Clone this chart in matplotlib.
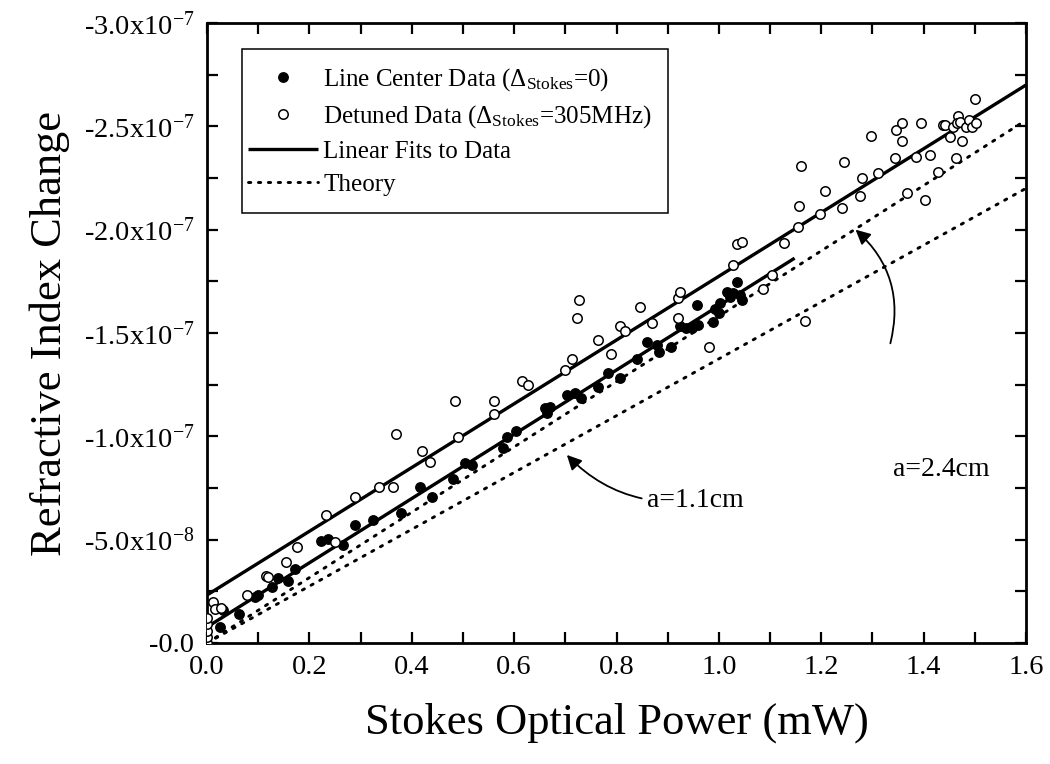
import matplotlib
matplotlib.use("Agg")
import matplotlib.pyplot as plt
from matplotlib.ticker import MultipleLocator
from matplotlib.patches import Rectangle

plt.rcParams['font.family'] = ['Liberation Serif', 'DejaVu Serif']
plt.rcParams['mathtext.fontset'] = 'custom'
plt.rcParams['mathtext.rm'] = 'Liberation Serif'
plt.rcParams['mathtext.it'] = 'Liberation Serif:italic'
plt.rcParams['mathtext.bf'] = 'Liberation Serif:bold'

# ---- data (y in units of 1e-7, plotted as magnitude; axis labels carry the minus sign)
center_x = [0.025, 0.031, 0.063, 0.094, 0.100, 0.127, 0.139, 0.158, 0.172, 0.222,
            0.236, 0.265, 0.289, 0.325, 0.379, 0.416, 0.440, 0.480, 0.504, 0.518,
            0.578, 0.586, 0.604, 0.660, 0.670, 0.664, 0.703, 0.719, 0.730, 0.764,
            0.783, 0.807, 0.840, 0.859, 0.879, 0.883, 0.906, 0.924, 0.936, 0.947,
            0.959, 0.957, 0.988, 0.992, 1.002, 1.000, 1.016, 1.035, 1.027, 1.041,
            1.045, 1.021]
center_y = [0.077, 0.160, 0.140, 0.223, 0.232, 0.270, 0.314, 0.300, 0.358, 0.493,
            0.503, 0.474, 0.571, 0.595, 0.629, 0.755, 0.706, 0.793, 0.871, 0.861,
            0.943, 0.997, 1.026, 1.137, 1.142, 1.113, 1.200, 1.210, 1.185, 1.238,
            1.306, 1.282, 1.374, 1.456, 1.442, 1.408, 1.432, 1.534, 1.524, 1.524,
            1.538, 1.635, 1.553, 1.616, 1.645, 1.597, 1.698, 1.747, 1.693, 1.684,
            1.660, 1.674]

detuned_x = [0.0, 0.0, 0.0, 0.0, 0.0, 0.012, 0.016, 0.027, 0.078, 0.115,
             0.119, 0.154, 0.176, 0.232, 0.250, 0.289, 0.336, 0.364, 0.369, 0.420,
             0.436, 0.484, 0.490, 0.560, 0.560, 0.615, 0.627, 0.699, 0.713, 0.723,
             0.727, 0.764, 0.789, 0.807, 0.816, 0.846, 0.869, 0.920, 0.920, 0.924,
             0.980, 1.027, 1.035, 1.045, 1.086, 1.104, 1.127, 1.154, 1.156, 1.160,
             1.168, 1.197, 1.207, 1.240, 1.244, 1.275, 1.279, 1.297, 1.311, 1.344,
             1.346, 1.357, 1.357, 1.367, 1.385, 1.395, 1.402, 1.412, 1.428, 1.438,
             1.441, 1.451, 1.457, 1.463, 1.467, 1.465, 1.471, 1.475, 1.482, 1.488,
             1.494, 1.502, 1.500]
detuned_y = [0.000, 0.030, 0.060, 0.090, 0.120, 0.198, 0.165, 0.170, 0.232, 0.324,
             0.320, 0.390, 0.464, 0.620, 0.490, 0.706, 0.755, 0.755, 1.010, 0.929,
             0.876, 1.170, 0.997, 1.170, 1.108, 1.270, 1.250, 1.320, 1.374, 1.572,
             1.659, 1.466, 1.398, 1.534, 1.509, 1.626, 1.548, 1.572, 1.669, 1.698,
             1.432, 1.829, 1.930, 1.940, 1.713, 1.780, 1.935, 2.013, 2.114, 2.308,
             1.558, 2.075, 2.187, 2.104, 2.327, 2.163, 2.250, 2.453, 2.274, 2.346,
             2.482, 2.516, 2.429, 2.177, 2.351, 2.516, 2.143, 2.361, 2.279, 2.506,
             2.506, 2.448, 2.496, 2.346, 2.550, 2.516, 2.521, 2.429, 2.496, 2.530,
             2.496, 2.516, 2.632]

fit_center_x = [0.0, 1.148]
fit_center_y = [0.077, 1.862]
fit_detuned_x = [0.0, 1.6]
fit_detuned_y = [0.232, 2.700]
theory_24_x = [0.0, 1.6]
theory_24_y = [0.0, 2.53]
theory_11_x = [0.0, 1.6]
theory_11_y = [0.0, 2.20]

x_ticks = [0.0, 0.2, 0.4, 0.6, 0.8, 1.0, 1.2, 1.4, 1.6]
y_ticks = [0.0, 0.5, 1.0, 1.5, 2.0, 2.5, 3.0]
y_tick_labels = ["-0.0", "-5.0x10$^{-8}$", "-1.0x10$^{-7}$", "-1.5x10$^{-7}$",
                 "-2.0x10$^{-7}$", "-2.5x10$^{-7}$", "-3.0x10$^{-7}$"]

fig = plt.figure(figsize=(10.5, 7.64), dpi=100)
ax = fig.add_axes([207/1050, 1 - 643/764, 819/1050, 620/764])

dot_style = (0, (0.8, 2.6))
ax.plot(fit_detuned_x, fit_detuned_y, color='black', lw=2.4, solid_capstyle='butt', zorder=2)
ax.plot(fit_center_x, fit_center_y, color='black', lw=2.4, solid_capstyle='butt', zorder=2,
        label='Linear Fits to Data')
ax.plot(theory_24_x, theory_24_y, color='black', lw=2.1, ls=dot_style,
        dash_capstyle='round', zorder=2, label='Theory')
ax.plot(theory_11_x, theory_11_y, color='black', lw=2.1, ls=dot_style,
        dash_capstyle='round', zorder=2)

ax.plot(center_x, center_y, 'o', ms=6.8, mfc='black', mec='black', mew=1.0, zorder=3,
        label='Line Center Data (Δ$_{\\mathrm{Stokes}}$=0)')
ax.plot(detuned_x, detuned_y, 'o', ms=6.8, mfc='white', mec='black', mew=1.1, zorder=3,
        label='Detuned Data (Δ$_{\\mathrm{Stokes}}$=305MHz)')

ax.set_xlim(0, 1.6)
ax.set_ylim(0, 3.0)
ax.xaxis.set_minor_locator(MultipleLocator(0.1))
ax.yaxis.set_minor_locator(MultipleLocator(0.25))
ax.set_xticks(x_ticks)
ax.set_xticklabels([f"{v:.1f}" for v in x_ticks])
ax.set_yticks(y_ticks)
ax.set_yticklabels(y_tick_labels)

ax.tick_params(which='both', direction='in', top=True, right=True, length=8, width=1.6,
               labelsize=20.5, pad=9)
for s in ax.spines.values():
    s.set_linewidth(2.0)

ax.set_xlabel('Stokes Optical Power (mW)', fontsize=32, labelpad=16)
ax.set_ylabel('Refractive Index Change', fontsize=32, labelpad=10)

# legend box (frame drawn separately for exact padding)
ax.add_patch(Rectangle(((242 - 207) / 819, (643 - 213) / 620), (668 - 242) / 819, 164 / 620,
                       transform=ax.transAxes, facecolor='white', edgecolor='black',
                       lw=1.1, zorder=4))
handles, labels = ax.get_legend_handles_labels()
order = [2, 3, 0, 1]
leg = ax.legend([handles[i] for i in order], [labels[i] for i in order],
                loc='upper left', bbox_to_anchor=((248 - 207) / 819, (643 - 66) / 620),
                fontsize=18, frameon=False, borderaxespad=0, borderpad=0,
                handlelength=2.8, handletextpad=0.2, labelspacing=0.42)
leg.set_zorder(5)

ax.annotate('a=1.1cm', xy=(0.703, 0.91), xytext=(0.86, 0.69), fontsize=20,
            va='center', ha='left',
            arrowprops=dict(arrowstyle='-|>', color='black', lw=1.3,
                            mutation_scale=22, shrinkA=2, shrinkB=0,
                            connectionstyle='arc3,rad=-0.25'))
ax.text(1.34, 0.84, 'a=2.4cm', fontsize=20, va='center', ha='left')
ax.annotate('', xy=(1.267, 2.00), xytext=(1.335, 1.45),
            arrowprops=dict(arrowstyle='-|>', color='black', lw=1.3,
                            mutation_scale=22, shrinkA=0, shrinkB=0,
                            connectionstyle='arc3,rad=0.3'))

fig.savefig('out.png', dpi=100)
